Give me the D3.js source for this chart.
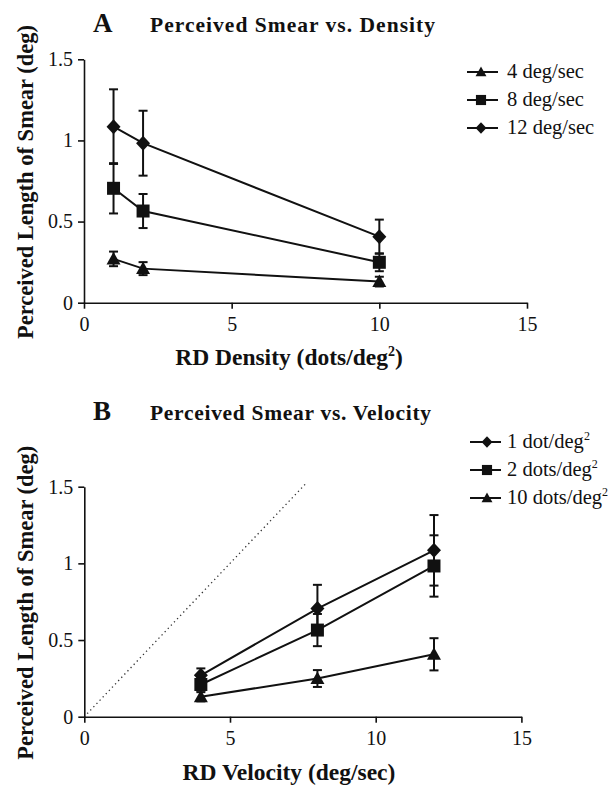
<!DOCTYPE html>
<html>
<head>
<meta charset="utf-8">
<script src="https://cdn.jsdelivr.net/npm/d3@7"></script>
<style>
  body { margin: 0; background: #fff; }
  text { font-family: "Liberation Serif", "DejaVu Serif", serif; fill: #111; }
</style>
</head>
<body>
<div id="chart"></div>
<script>
// ---- data ----
var densities = [1, 2, 10];          // dots/deg^2
var velocities = [4, 8, 12];         // deg/sec

// mean perceived smear, rows = velocity 4, 8, 12 ; cols = density 1, 2, 10
var smear4 = [0.27, 0.21, 0.13];
var smear8 = [0.705, 0.565, 0.249];
var smear12 = [1.085, 0.983, 0.407];

// error (half bar length)
var err4 = [0.045, 0.04, 0.03];
var err8 = [0.155, 0.105, 0.055];
var err12 = [0.23, 0.2, 0.105];

var xTicks = [0, 5, 10, 15];
var yTicks = [0, 0.5, 1, 1.5];

// dotted reference line in panel B (smear = velocity * 0.2 s)
var refLine = [[0.1, 0.02], [7.65, 1.53]];

var seriesA = [
  {name: "4 deg/sec", shape: "triangle", y: smear4, e: err4},
  {name: "8 deg/sec", shape: "square", y: smear8, e: err8},
  {name: "12 deg/sec", shape: "diamond", y: smear12, e: err12}
];

// panel B: same numbers, transposed (one series per density)
var seriesB = [
  {name: "1 dot/deg", sup: "2", shape: "diamond", idx: 0},
  {name: "2 dots/deg", sup: "2", shape: "square", idx: 1},
  {name: "10 dots/deg", sup: "2", shape: "triangle", idx: 2}
].map(function(s) {
  return {
    name: s.name, sup: s.sup, shape: s.shape,
    y: [smear4[s.idx], smear8[s.idx], smear12[s.idx]],
    e: [err4[s.idx], err8[s.idx], err12[s.idx]]
  };
});

var W = 613, H = 785;
var svg = d3.select("#chart").append("svg")
  .attr("width", W)
  .attr("height", H);

// marker shapes, k = scale
function markerPath(shape, k) {
  k = k || 1;
  if (shape == "diamond") return "M0," + (-7.5*k) + "L" + (7*k) + ",0L0," + (7.5*k) + "L" + (-7*k) + ",0Z";
  if (shape == "square") return "M" + (-6.5*k) + "," + (-6.5*k) + "H" + (6.5*k) + "V" + (6.5*k) + "H" + (-6.5*k) + "Z";
  return "M0," + (-7*k) + "L" + (7*k) + "," + (5.5*k) + "H" + (-7*k) + "Z";
}

function drawPanel(opt) {
  var g = svg.append("g");

  var x = d3.scaleLinear().domain([0, 15]).range(opt.xr);
  var y = d3.scaleLinear().domain([0, 1.5]).range(opt.yr);

  // axes
  var xa = g.append("g")
    .attr("transform", "translate(0," + opt.yr[0] + ")")
    .call(d3.axisBottom(x).tickValues(xTicks).tickSize(6).tickSizeOuter(0).tickPadding(8));
  var ya = g.append("g")
    .attr("transform", "translate(" + opt.xr[0] + ",0)")
    .call(d3.axisLeft(y).tickValues(yTicks).tickFormat(function(d) { return String(d); })
      .tickSize(6).tickSizeOuter(0).tickPadding(5));
  [xa, ya].forEach(function(a) {
    a.selectAll("path, line").attr("stroke", "#111").attr("stroke-width", 1.6);
    a.selectAll("text").style("font-family", "Liberation Serif").style("font-size", "20px").attr("fill", "#222");
  });

  // reference line
  if (opt.ref) {
    g.append("path")
      .datum(opt.ref)
      .attr("d", d3.line().x(function(d) { return x(d[0]); }).y(function(d) { return y(d[1]); }))
      .attr("fill", "none")
      .attr("stroke", "#333")
      .attr("stroke-width", 1.3)
      .attr("stroke-dasharray", "1.3,3.2");
  }

  var line = d3.line()
    .x(function(d) { return x(d.x); })
    .y(function(d) { return y(d.y); });

  opt.series.forEach(function(s) {
    var pts = opt.xs.map(function(xv, i) { return {x: xv, y: s.y[i], e: s.e[i]}; });

    g.append("path")
      .datum(pts)
      .attr("d", line)
      .attr("fill", "none")
      .attr("stroke", "#111")
      .attr("stroke-width", 2);

    // error bars
    var eb = g.append("g").selectAll("g").data(pts).enter().append("g");
    eb.append("line")
      .attr("x1", function(d) { return x(d.x); })
      .attr("x2", function(d) { return x(d.x); })
      .attr("y1", function(d) { return y(d.y + d.e); })
      .attr("y2", function(d) { return y(d.y - d.e); })
      .attr("stroke", "#111").attr("stroke-width", 2);
    eb.selectAll("line.cap").data(function(d) { return [d.y + d.e, d.y - d.e].map(function(v) { return {x: d.x, v: v}; }); })
      .enter().append("line")
      .attr("class", "cap")
      .attr("x1", function(d) { return x(d.x) - 4.5; })
      .attr("x2", function(d) { return x(d.x) + 4.5; })
      .attr("y1", function(d) { return y(d.v); })
      .attr("y2", function(d) { return y(d.v); })
      .attr("stroke", "#111").attr("stroke-width", 2);

    g.append("g").selectAll("path").data(pts).enter().append("path")
      .attr("d", markerPath(s.shape))
      .attr("transform", function(d) { return "translate(" + x(d.x) + "," + y(d.y) + ")"; })
      .attr("fill", "#111");
  });

  // legend
  opt.series.forEach(function(s, i) {
    var ly = opt.legend.y[i];
    g.append("line")
      .attr("x1", opt.legend.x).attr("x2", opt.legend.x + 31)
      .attr("y1", ly).attr("y2", ly)
      .attr("stroke", "#111").attr("stroke-width", 2);
    g.append("path")
      .attr("d", markerPath(s.shape, 0.78))
      .attr("transform", "translate(" + (opt.legend.x + opt.legend.m) + "," + ly + ")")
      .attr("fill", "#111");
    var t = g.append("text")
      .attr("x", 507)
      .attr("y", ly + 6)
      .style("font-size", "20.5px")
      .text(s.name);
    if (s.sup) {
      t.append("tspan").attr("dy", -8).style("font-size", "12px").text(s.sup);
    }
  });

  // panel letter and title
  g.append("text")
    .attr("x", 93).attr("y", opt.titleY)
    .style("font-size", "27px").style("font-weight", "bold")
    .text(opt.letter);
  g.append("text")
    .attr("x", 150).attr("y", opt.titleY)
    .attr("textLength", opt.titleW).attr("lengthAdjust", "spacing")
    .style("font-size", "21.5px").style("font-weight", "bold")
    .text(opt.title);

  // axis titles
  var xl = g.append("text")
    .attr("x", opt.xLabelX)
    .attr("y", opt.xLabelY)
    .attr("text-anchor", "middle")
    .style("font-size", "23.5px").style("font-weight", "bold")
    .text(opt.xLabel);
  if (opt.xLabelSup) {
    xl.append("tspan").attr("dy", -9).style("font-size", "14px").text(opt.xLabelSup);
    xl.append("tspan").attr("dy", 9).text(")");
  }
  g.append("text")
    .attr("transform", "translate(33," + ((opt.yr[0] + opt.yr[1]) / 2 + 1) + ") rotate(-90)")
    .attr("text-anchor", "middle")
    .style("font-size", "22.5px").style("font-weight", "bold")
    .text("Perceived Length of Smear (deg)");
}

// panel A: smear vs density
drawPanel({
  xr: [84, 527], yr: [302.7, 59.3],
  xs: densities,
  series: seriesA,
  legend: {x: 467, m: 14, y: [72, 100, 128]},
  letter: "A", titleY: 32, titleW: 285,
  title: "Perceived Smear vs. Density",
  xLabel: "RD Density (dots/deg", xLabelSup: "2", xLabelX: 289, xLabelY: 365
});

// panel B: smear vs velocity
drawPanel({
  xr: [84.3, 521.4], yr: [716.7, 486.7],
  xs: velocities,
  series: seriesB,
  legend: {x: 470, m: 17, y: [442, 470, 498]},
  letter: "B", titleY: 420, titleW: 281,
  title: "Perceived Smear vs. Velocity",
  xLabel: "RD Velocity (deg/sec)", xLabelX: 289, xLabelY: 780,
  ref: refLine
});
</script>
</body>
</html>
